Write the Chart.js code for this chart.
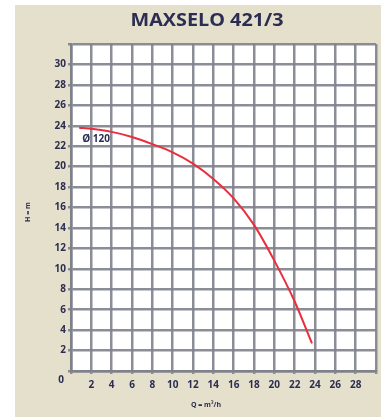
<!DOCTYPE html>
<html>
<head>
<meta charset="utf-8">
<script src="https://cdn.jsdelivr.net/npm/chart.js@4.4.1/dist/chart.umd.min.js"></script>
<style>
  html, body { margin: 0; padding: 0; background: #ffffff; }
  #wrap { position: relative; width: 381px; height: 417px; }
  #panel { position: absolute; left: 15px; top: 5px; right: 0; bottom: 0; background: #e5e0cc; }
  canvas { position: absolute; left: 0; top: 0; }
</style>
</head>
<body>
<div id="wrap">
  <div id="panel"></div>
  <canvas id="pump" width="381" height="417"></canvas>
</div>
<script>
// Pump curve: delivery head H (m) against flow Q (m³/h), impeller Ø 120
const flowQ = [0.8, 2, 4, 6, 8, 10, 12, 14, 16, 18, 20, 22, 23.7];
const headH = [23.8, 23.7, 23.4, 22.9, 22.2, 21.4, 20.3, 18.8, 16.9, 14.3, 10.8, 6.8, 2.7];
const xTicks = [2, 4, 6, 8, 10, 12, 14, 16, 18, 20, 22, 24, 26, 28];
const yTicks = [2, 4, 6, 8, 10, 12, 14, 16, 18, 20, 22, 24, 26, 28, 30];

const chartTitle = 'MAXSELO 421/3';
const xTitle = 'Q = m³/h';
const yTitle = 'H = m';
const curveLabel = 'Ø 120';

const ink = '#2b2d52';
const gridColor = 'rgba(128,130,140,0.9)';
const tickFont = { family: 'Open Sans', size: 10, weight: 'bold' };

const annotations = {
  id: 'annotations',
  afterDraw(chart) {
    const { ctx, scales } = chart;
    ctx.save();
    ctx.fillStyle = ink;
    // main heading, fitted to its width
    ctx.font = 'bold 17px "Open Sans"';
    ctx.textAlign = 'center';
    ctx.textBaseline = 'middle';
    const w = ctx.measureText(chartTitle).width;
    ctx.save();
    ctx.translate(207, 21);
    ctx.scale(153 / w, 1);
    ctx.fillText(chartTitle, 0, 0);
    ctx.restore();
    // origin label below the corner
    ctx.font = 'bold 10px "Open Sans"';
    ctx.textAlign = 'right';
    ctx.fillText('0', 64, 380);
    // axis titles
    ctx.font = 'bold 7px "Open Sans"';
    ctx.textAlign = 'center';
    ctx.fillText(xTitle, 206, 405);
    ctx.save();
    ctx.translate(28, 212);
    ctx.rotate(-Math.PI / 2);
    ctx.fillText(yTitle, 0, 0);
    ctx.restore();
    // curve label
    ctx.font = 'bold 10px "Open Sans"';
    ctx.textAlign = 'left';
    ctx.fillText(curveLabel, scales.x.getPixelForValue(1.1), scales.y.getPixelForValue(22.7));
    ctx.restore();
  }
};

new Chart(document.getElementById('pump'), {
  type: 'scatter',
  data: {
    datasets: [{
      data: flowQ.map((q, i) => ({ x: q, y: headH[i] })),
      showLine: true,
      borderColor: '#ea2e3e',
      borderWidth: 2,
      pointRadius: 0,
      cubicInterpolationMode: 'monotone',
      fill: false
    }]
  },
  options: {
    responsive: false,
    animation: false,
    devicePixelRatio: 1,
    layout: { padding: { left: 0, right: 4, top: 44, bottom: 0 } },
    plugins: {
      legend: { display: false },
      tooltip: { enabled: false },
      title: { display: false }
    },
    scales: {
      x: {
        type: 'linear',
        min: 0,
        max: 30,
        afterFit(scale) { scale.height = 46; },
        afterBuildTicks(scale) {
          scale.ticks = [0, ...xTicks, 30].map(v => ({ value: v }));
        },
        ticks: {
          autoSkip: false,
          maxRotation: 0,
          padding: 5,
          color: ink,
          font: tickFont,
          callback: v => (xTicks.includes(v) ? String(v) : '')
        },
        grid: {
          color: gridColor,
          lineWidth: 2.5,
          tickLength: 3
        },
        border: { color: '#7e808a', width: 2.5 }
      },
      y: {
        type: 'linear',
        min: 0,
        max: 32,
        afterFit(scale) { scale.width = 71; },
        afterBuildTicks(scale) {
          scale.ticks = [0, ...yTicks, 32].map(v => ({ value: v }));
        },
        ticks: {
          autoSkip: false,
          padding: 2,
          color: ink,
          font: tickFont,
          callback: v => (yTicks.includes(v) ? String(v) : '')
        },
        grid: {
          color: gridColor,
          lineWidth: 2.5,
          tickLength: 3
        },
        border: { color: '#7e808a', width: 2.5 }
      }
    }
  },
  plugins: [{
    id: 'plotBackground',
    beforeDraw(chart) {
      const { ctx, chartArea } = chart;
      ctx.save();
      ctx.fillStyle = '#ffffff';
      ctx.fillRect(chartArea.left, chartArea.top, chartArea.right - chartArea.left, chartArea.bottom - chartArea.top);
      ctx.restore();
    }
  }, annotations]
});
</script>
</body>
</html>
